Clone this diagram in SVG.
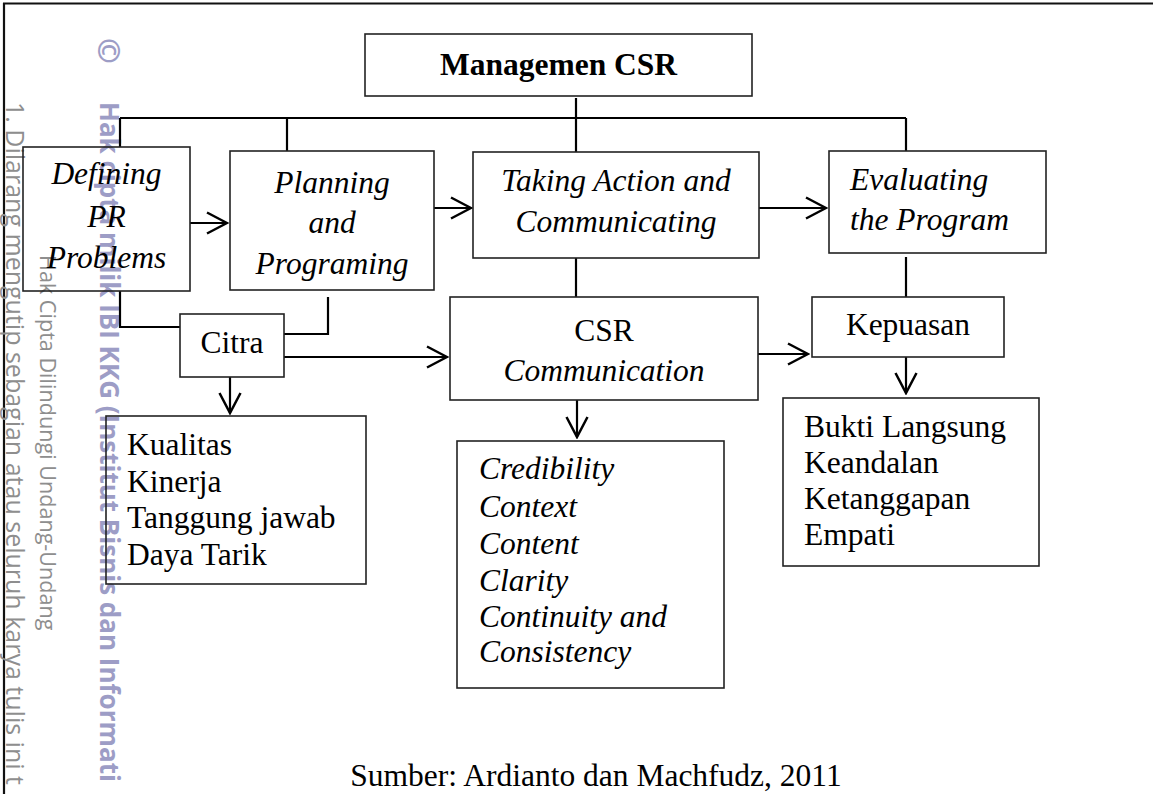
<svg xmlns="http://www.w3.org/2000/svg" width="1153" height="794" viewBox="0 0 1153 794">
  <style>
    .box { fill: none; stroke: #222; stroke-width: 1.6; }
    .wire { fill: none; stroke: #000; stroke-width: 2.2; }
    .t { font-family: "Liberation Serif", "Times New Roman", serif; font-size: 31.5px; fill: #000; }
    .i { font-style: italic; }
    .c { text-anchor: middle; }
    .b { font-weight: bold; }
    .wm { font-family: "Open Sans", "DejaVu Sans", sans-serif; fill: #8e8e8e; }
    .wm-b { font-family: "Open Sans", "DejaVu Sans", sans-serif; font-weight: bold; fill: #9d9dc6; }
  </style>
  <defs>
    <marker id="arrow" viewBox="-24 -14 26 28" refX="0" refY="0" markerWidth="26" markerHeight="28" markerUnits="userSpaceOnUse" orient="auto">
      <path d="M-20,-10.5 L0,0 L-20,10.5" fill="none" stroke="#000" stroke-width="2.5"/>
    </marker>
  </defs>

  <rect width="1153" height="794" fill="#fff"/>

  <!-- page frame -->
  <g id="frame">
    <line x1="3" y1="3.5" x2="1153" y2="3.5" stroke="#111" stroke-width="2.2"/>
    <line x1="4" y1="3" x2="4" y2="794" stroke="#111" stroke-width="2.2"/>
  </g>

  <!-- vertical copyright notes along the left margin -->
  <g id="margin-notes">
    <text class="wm" font-size="25" transform="translate(6,102) rotate(90)">1. Dilarang mengutip sebagian atau seluruh karya tulis ini t</text>
    <text class="wm" font-size="21.6" transform="translate(40,255) rotate(90)">Hak Cipta Dilindungi Undang-Undang</text>
    <text class="wm-b" font-size="31" fill="#7c7c7c" transform="translate(98,38) rotate(90)">©</text>
    <text class="wm-b" font-size="26" transform="translate(100,102) rotate(90)">Hak cipta milik IBI KKG (Institut Bisnis dan Informati</text>
  </g>

  <!-- connectors -->
  <g id="connectors">
    <path class="wire" d="M120,118 H906"/>
    <path class="wire" d="M576,98 V152"/>
    <path class="wire" d="M120,118 V147"/>
    <path class="wire" d="M287,118 V151"/>
    <path class="wire" d="M906,118 V151"/>
    <path class="wire" d="M120,291 V327 H180"/>
    <path class="wire" d="M328,297 V334 H284"/>
    <path class="wire" d="M576,258 V297"/>
    <path class="wire" d="M906,257 V297"/>
    <path class="wire" d="M190,223 H227" marker-end="url(#arrow)"/>
    <path class="wire" d="M434,208 H471" marker-end="url(#arrow)"/>
    <path class="wire" d="M759,208 H826" marker-end="url(#arrow)"/>
    <path class="wire" d="M284,357 H447" marker-end="url(#arrow)"/>
    <path class="wire" d="M758,354 H808" marker-end="url(#arrow)"/>
    <path class="wire" d="M230,377 V413" marker-end="url(#arrow)"/>
    <path class="wire" d="M577,400 V437" marker-end="url(#arrow)"/>
    <path class="wire" d="M906,357 V393" marker-end="url(#arrow)"/>
  </g>

  <g id="managemen-csr">
    <rect class="box" x="365" y="34" width="387" height="62"/>
    <text class="t b c" x="558.5" y="75">Managemen CSR</text>
  </g>

  <g id="defining">
    <rect class="box" x="23" y="147" width="167" height="144"/>
    <text class="t i c" x="106.5" y="184">Defining</text>
    <text class="t i c" x="106.5" y="227">PR</text>
    <text class="t i c" x="106.5" y="268">Problems</text>
  </g>

  <g id="planning">
    <rect class="box" x="230" y="151" width="204" height="139"/>
    <text class="t i c" x="332" y="193">Planning</text>
    <text class="t i c" x="332" y="233">and</text>
    <text class="t i c" x="332" y="274">Programing</text>
  </g>

  <g id="taking-action">
    <rect class="box" x="473" y="152" width="286" height="106"/>
    <text class="t i c" x="616" y="191">Taking Action and</text>
    <text class="t i c" x="616" y="232">Communicating</text>
  </g>

  <g id="evaluating">
    <rect class="box" x="829" y="151" width="217" height="102"/>
    <text class="t i" x="850" y="190">Evaluating</text>
    <text class="t i" x="850" y="230">the Program</text>
  </g>

  <g id="citra">
    <rect class="box" x="180" y="314" width="104" height="63"/>
    <text class="t c" x="232" y="353">Citra</text>
  </g>

  <g id="csr-communication">
    <rect class="box" x="450" y="297" width="308" height="103"/>
    <text class="t c" x="604" y="341">CSR</text>
    <text class="t i c" x="604" y="381">Communication</text>
  </g>

  <g id="kepuasan">
    <rect class="box" x="812" y="297" width="192" height="60"/>
    <text class="t c" x="908" y="335">Kepuasan</text>
  </g>

  <g id="citra-dimensions">
    <rect class="box" x="106" y="416" width="260" height="168"/>
    <text class="t" x="127" y="455">Kualitas</text>
    <text class="t" x="127" y="492">Kinerja</text>
    <text class="t" x="127" y="528">Tanggung jawab</text>
    <text class="t" x="127" y="565">Daya Tarik</text>
  </g>

  <g id="communication-principles">
    <rect class="box" x="457" y="441" width="267" height="247"/>
    <text class="t i" x="479" y="479">Credibility</text>
    <text class="t i" x="479" y="517">Context</text>
    <text class="t i" x="479" y="554">Content</text>
    <text class="t i" x="479" y="591">Clarity</text>
    <text class="t i" x="479" y="627">Continuity and</text>
    <text class="t i" x="479" y="662">Consistency</text>
  </g>

  <g id="service-quality">
    <rect class="box" x="783" y="398" width="256" height="168"/>
    <text class="t" x="804" y="437">Bukti Langsung</text>
    <text class="t" x="804" y="473">Keandalan</text>
    <text class="t" x="804" y="509">Ketanggapan</text>
    <text class="t" x="804" y="545">Empati</text>
  </g>

  <text id="source" class="t c" x="596" y="786">Sumber: Ardianto dan Machfudz, 2011</text>
</svg>
